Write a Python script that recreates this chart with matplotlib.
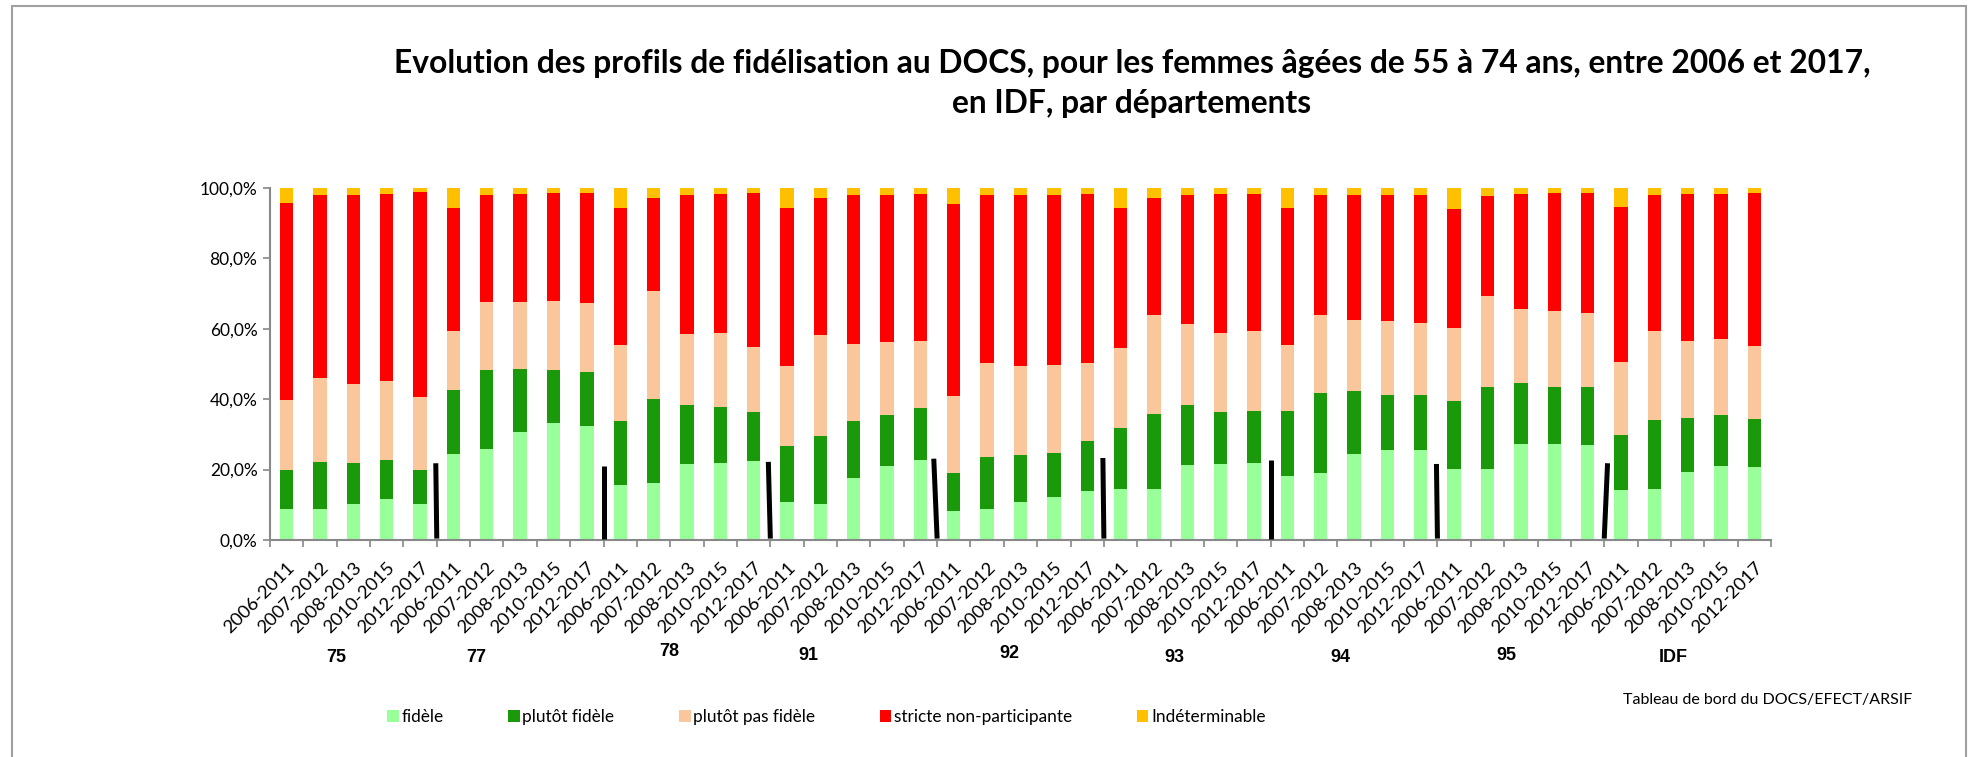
import matplotlib
matplotlib.use("Agg")
import matplotlib.pyplot as plt
from matplotlib.patches import Rectangle
import numpy as np

plt.rcParams['font.family'] = ['Lato', 'DejaVu Sans']

# ── Data (% of women per profile, stacked bottom to top) ─────────────────────
periods = ["2006-2011", "2007-2012", "2008-2013", "2010-2015", "2012-2017"]
departements = ["75", "77", "78", "91", "92", "93", "94", "95", "IDF"]

fidele = [8.8, 8.8, 10.2, 11.6, 10.2,
          24.5, 25.9, 30.6, 33.2, 32.5,
          15.7, 16.3, 21.6, 22.0, 22.4,
          10.7, 10.1, 17.5, 20.9, 22.7,
          8.1, 8.8, 10.9, 12.2, 13.9,
          14.5, 14.6, 21.3, 21.5, 21.9,
          18.3, 19.1, 24.5, 25.5, 25.5,
          20.1, 20.1, 27.4, 27.4, 27.0,
          14.3, 14.6, 19.3, 21.1, 20.7]
plutot_fidele = [11.1, 13.3, 11.6, 11.0, 9.7,
                 18.2, 22.3, 17.9, 15.1, 15.3,
                 18.1, 23.8, 16.7, 15.8, 14.0,
                 16.1, 19.5, 16.3, 14.6, 14.8,
                 11.0, 14.9, 13.2, 12.5, 14.1,
                 17.2, 21.1, 17.1, 14.9, 14.8,
                 18.4, 22.8, 17.9, 15.7, 15.7,
                 19.4, 23.4, 17.3, 16.1, 16.5,
                 15.6, 19.4, 15.5, 14.4, 13.8]
plutot_pas_fidele = [19.9, 23.9, 22.5, 22.6, 20.7,
                     16.7, 19.5, 19.2, 19.6, 19.5,
                     21.7, 30.7, 20.2, 21.0, 18.4,
                     22.5, 28.7, 21.9, 20.7, 18.9,
                     21.9, 26.7, 25.3, 25.1, 22.2,
                     22.9, 28.3, 23.1, 22.5, 22.7,
                     18.8, 21.9, 20.2, 21.0, 20.5,
                     20.6, 25.7, 21.0, 21.5, 21.0,
                     20.6, 25.4, 21.8, 21.6, 20.5]
stricte_non_part = [55.8, 52.1, 53.8, 53.2, 58.2,
                    35.0, 30.4, 30.7, 30.6, 31.2,
                    38.8, 26.5, 39.5, 39.4, 43.7,
                    45.1, 39.0, 42.2, 41.9, 42.0,
                    54.4, 47.7, 48.5, 48.3, 48.0,
                    39.8, 33.3, 36.6, 39.5, 39.0,
                    38.9, 34.1, 35.3, 35.7, 36.4,
                    34.0, 28.5, 32.7, 33.5, 34.2,
                    44.2, 38.5, 41.6, 41.3, 43.5]
indeterminable = [4.4, 1.9, 1.9, 1.6, 1.2,
                  5.6, 1.9, 1.6, 1.5, 1.5,
                  5.7, 2.7, 2.0, 1.8, 1.5,
                  5.6, 2.7, 2.1, 1.9, 1.6,
                  4.6, 1.9, 2.1, 1.9, 1.8,
                  5.6, 2.7, 1.9, 1.6, 1.6,
                  5.6, 2.1, 2.1, 2.1, 1.9,
                  5.9, 2.3, 1.6, 1.5, 1.3,
                  5.3, 2.1, 1.8, 1.6, 1.5]

# hand-drawn black separators between departments (height in %)
sep_top = [21.8, 21.1, 22.2, 23.1, 23.3, 22.6, 21.6, 21.8]
sep_lean = [-0.03, 0.0, -0.06, -0.1, -0.03, 0.0, -0.03, 0.1]

series = [
    ("fidèle", fidele, "#99FF99"),
    ("plutôt fidèle", plutot_fidele, "#1A9A0A"),
    ("plutôt pas fidèle", plutot_pas_fidele, "#FAC69C"),
    ("stricte non-participante", stricte_non_part, "#FF0000"),
    ("Indéterminable", indeterminable, "#FFC000"),
]

W, H = 1973, 757
fig = plt.figure(figsize=(W / 100, H / 100), dpi=100)
ax = fig.add_axes([270 / W, 1 - 540 / H, 1501 / W, 352 / H])

n = len(fidele)
x = np.arange(n)
bottom = np.zeros(n)
for name, vals, color in series:
    vals = np.array(vals)
    ax.bar(x, vals, bottom=bottom, width=0.4, color=color, edgecolor="none",
           label=name, zorder=2)
    bottom += vals

for i, (top, lean) in enumerate(zip(sep_top, sep_lean)):
    xb = 5 * (i + 1) - 0.5
    ax.plot([xb, xb + lean], [0.4, top], color="black", lw=3.6,
            solid_capstyle="butt", zorder=3)

ax.set_xlim(-0.5, n - 0.5)
ax.set_ylim(0, 100)
ax.set_yticks(np.arange(0, 101, 20))
ax.set_yticklabels([f"{v:.1f}%".replace(".", ",") for v in np.arange(0, 101, 20)],
                   fontsize=12.5)
ax.set_xticks(x)
ax.set_xticklabels(periods * len(departements), rotation=45, ha="right",
                   rotation_mode="anchor", fontsize=13.3)
ax.tick_params(axis="x", which="major", length=0, pad=14)
ax.set_xticks(np.arange(-0.5, n, 1), minor=True)
ax.tick_params(axis="x", which="minor", length=5, color="#888888", width=1.2)
ax.tick_params(axis="y", length=5, color="#888888", width=1.2, pad=4)

for s in ["top", "right"]:
    ax.spines[s].set_visible(False)
for s in ["left", "bottom"]:
    ax.spines[s].set_color("#888888")
    ax.spines[s].set_linewidth(1.5)

# department labels under each group
dep_x = [1.48, 5.68, 11.46, 15.63, 21.66, 26.6, 31.6, 36.56, 41.57]
dep_y = [657, 657, 652, 655, 653, 658, 657, 655, 657]
for lab, dx, dy in zip(departements, dep_x, dep_y):
    xf = (270 + (dx + 0.5) * 1501 / n) / W
    fig.text(xf, 1 - dy / H, lab, ha="center", va="center", fontsize=13,
             fontweight="bold", family="Liberation Sans")

fig.text(1132 / W, 1 - 63 / H,
         "Evolution des profils de fidélisation au DOCS, pour les femmes âgées "
         "de 55 à 74 ans, entre 2006 et 2017,",
         ha="center", va="center", fontsize=22.9, fontweight="bold")
fig.text(1132 / W, 1 - 104 / H, "en IDF, par départements",
         ha="center", va="center", fontsize=22.9, fontweight="bold")

fig.text(1623 / W, 1 - 700 / H, "Tableau de bord du DOCS/EFECT/ARSIF",
         ha="left", va="center", fontsize=11.5)

fig.legend(loc="center left", bbox_to_anchor=(387 / W, 1 - 717 / H), ncol=5,
           frameon=False, fontsize=12.4, handlelength=0.68, handleheight=0.68,
           handletextpad=0.15, columnspacing=3.75, borderaxespad=0,
           borderpad=0)

fig.patches.append(Rectangle((12 / W, -0.05), (1966 - 12) / W, 1.05 - 6 / H,
                             transform=fig.transFigure, fill=False,
                             edgecolor="#A0A0A0", lw=1.5))

fig.savefig("out.png", dpi=100)
